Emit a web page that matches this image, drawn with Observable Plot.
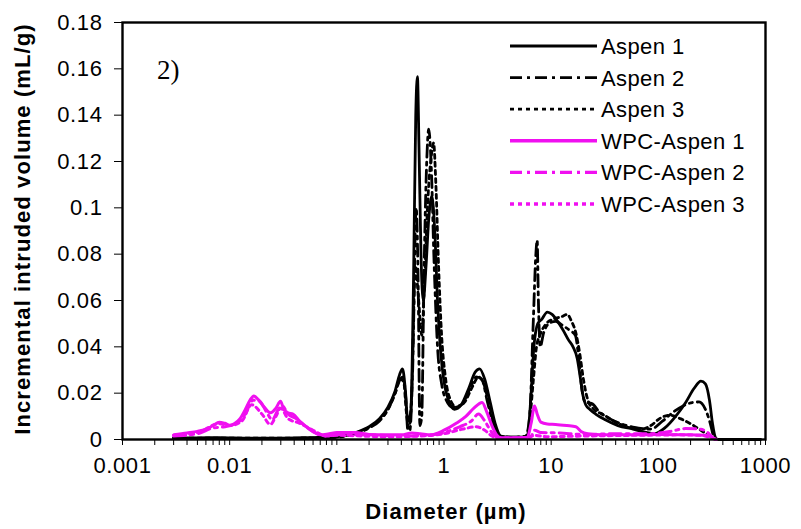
<!DOCTYPE html>
<html>
<head>
<meta charset="utf-8">
<script src="https://cdn.jsdelivr.net/npm/d3@7"></script>
<script src="https://cdn.jsdelivr.net/npm/@observablehq/plot@0.6"></script>
<style>
  html, body { margin: 0; padding: 0; background: #fff; }
  #chart { width: 801px; height: 529px; }
  svg { font-family: "Liberation Sans", Arial, sans-serif; }
</style>
</head>
<body>
<div id="chart"></div>
<script>
// ---- data (diameter in µm, incremental intruded volume in mL/g) ----
const seriesNames = ["Aspen 1", "Aspen 2", "Aspen 3", "WPC-Aspen 1", "WPC-Aspen 2", "WPC-Aspen 3"];

const aspen1 = [[0.003,0.0008],[0.005,0.0007],[0.008,0.0008],[0.015,0.0006],[0.03,0.0006],[0.06,0.0008],[0.1,0.0012],[0.15,0.003],[0.2,0.0055],[0.25,0.009],[0.3,0.014],[0.35,0.021],[0.385,0.028],[0.41,0.0305],[0.435,0.022],[0.46,0.008],[0.49,0.012],[0.52,0.07],[0.545,0.14],[0.565,0.1566],[0.585,0.125],[0.61,0.08],[0.64,0.06],[0.68,0.075],[0.72,0.095],[0.77,0.105],[0.82,0.09],[0.87,0.06],[0.93,0.038],[1.0,0.025],[1.1,0.017],[1.25,0.013],[1.45,0.015],[1.7,0.022],[1.95,0.029],[2.15,0.0305],[2.4,0.026],[2.7,0.016],[3.0,0.007],[3.4,0.0015],[4.2,0.001],[5.2,0.001],[6.0,0.0015],[6.4,0.015],[6.9,0.04],[7.5,0.05],[8.2,0.052],[9.2,0.055],[10.2,0.054],[11.5,0.051],[13,0.047],[14.5,0.043],[16,0.04],[17.5,0.035],[18.8,0.026],[19.8,0.019],[21,0.015],[23,0.013],[26,0.011],[32,0.0085],[42,0.006],[58,0.0045],[75,0.0032],[92,0.0025],[115,0.005],[145,0.01],[180,0.016],[215,0.022],[250,0.0252],[275,0.024],[300,0.017],[320,0.007],[340,0.001],[360,0],[500,0],[900,0]];

const aspen2 = [[0.003,0.0004],[0.006,0.0004],[0.012,0.0005],[0.03,0.0005],[0.06,0.0006],[0.1,0.001],[0.15,0.0025],[0.2,0.005],[0.25,0.008],[0.3,0.013],[0.35,0.02],[0.39,0.026],[0.415,0.027],[0.44,0.018],[0.46,0.004],[0.48,0.004],[0.51,0.03],[0.55,0.1],[0.575,0.065],[0.595,0.006],[0.62,0.01],[0.65,0.07],[0.69,0.12],[0.72,0.134],[0.76,0.118],[0.81,0.075],[0.87,0.04],[0.95,0.024],[1.05,0.017],[1.2,0.014],[1.45,0.015],[1.75,0.022],[2.0,0.027],[2.25,0.026],[2.55,0.016],[2.9,0.006],[3.3,0.0015],[4.5,0.001],[5.8,0.0015],[6.3,0.01],[6.8,0.05],[7.2,0.08],[7.4,0.086],[7.6,0.06],[7.9,0.04],[8.5,0.046],[9.5,0.05],[11,0.051],[13,0.049],[15,0.047],[16.8,0.045],[18,0.036],[19.3,0.022],[21,0.016],[24,0.0155],[28,0.012],[35,0.009],[45,0.0068],[60,0.0052],[85,0.0045],[110,0.008],[135,0.0115],[170,0.0145],[210,0.016],[240,0.0162],[275,0.013],[305,0.007],[325,0.002],[345,0],[500,0],[900,0]];

const aspen3 = [[0.003,0.0006],[0.006,0.0006],[0.012,0.0006],[0.03,0.0006],[0.06,0.0007],[0.1,0.0011],[0.15,0.0028],[0.2,0.0052],[0.25,0.0085],[0.3,0.013],[0.35,0.02],[0.39,0.026],[0.42,0.025],[0.445,0.012],[0.47,0.005],[0.5,0.02],[0.54,0.075],[0.58,0.06],[0.62,0.045],[0.66,0.07],[0.71,0.105],[0.76,0.122],[0.8,0.128],[0.84,0.11],[0.89,0.075],[0.95,0.045],[1.03,0.027],[1.15,0.017],[1.3,0.014],[1.55,0.016],[1.85,0.023],[2.1,0.027],[2.35,0.024],[2.7,0.013],[3.0,0.005],[3.3,0.0012],[4.5,0.0009],[5.8,0.0012],[6.3,0.008],[6.8,0.025],[7.3,0.04],[8.0,0.046],[9.0,0.05],[10.5,0.052],[12.5,0.053],[14.1,0.054],[15.5,0.051],[17,0.046],[18.5,0.037],[20,0.026],[22,0.017],[25,0.013],[30,0.011],[40,0.0075],[55,0.005],[70,0.0045],[85,0.006],[105,0.0093],[130,0.0105],[160,0.009],[200,0.0068],[240,0.0045],[280,0.0025],[320,0.0008],[345,0],[500,0],[900,0]];

const wpcAspen1 = [[0.003,0.002],[0.004,0.0028],[0.005,0.0035],[0.006,0.0045],[0.007,0.006],[0.008,0.0075],[0.009,0.007],[0.01,0.0062],[0.011,0.0068],[0.0125,0.009],[0.014,0.013],[0.0155,0.017],[0.0168,0.0188],[0.0185,0.0172],[0.021,0.014],[0.024,0.0115],[0.027,0.0135],[0.0298,0.0165],[0.032,0.013],[0.035,0.0115],[0.039,0.011],[0.045,0.008],[0.052,0.0055],[0.06,0.0035],[0.07,0.002],[0.085,0.0025],[0.1,0.003],[0.15,0.003],[0.2,0.0022],[0.3,0.002],[0.4,0.002],[0.5,0.0028],[0.6,0.0025],[0.75,0.002],[1.0,0.004],[1.3,0.007],[1.6,0.01],[1.9,0.0135],[2.27,0.016],[2.5,0.012],[2.8,0.006],[3.1,0.002],[3.4,0.0008],[5,0.0008],[6.0,0.001],[6.5,0.007],[7.0,0.0145],[7.4,0.011],[8.0,0.0075],[9.2,0.0067],[11,0.0065],[14,0.006],[17,0.0055],[19,0.0035],[22,0.0025],[30,0.002],[60,0.002],[100,0.0022],[200,0.002],[300,0.0018],[330,0.0005],[350,0]];

const wpcAspen2 = [[0.003,0.0015],[0.005,0.0025],[0.007,0.005],[0.009,0.0055],[0.012,0.0075],[0.014,0.011],[0.0165,0.017],[0.019,0.0165],[0.022,0.012],[0.025,0.0085],[0.028,0.0125],[0.031,0.0145],[0.035,0.011],[0.042,0.009],[0.05,0.006],[0.065,0.0025],[0.08,0.0015],[0.1,0.002],[0.2,0.002],[0.4,0.0015],[0.7,0.0018],[1.0,0.003],[1.4,0.0055],[1.8,0.008],[2.1,0.011],[2.4,0.008],[2.8,0.003],[3.2,0.0008],[5,0.0006],[6.5,0.0015],[7,0.004],[8,0.003],[12,0.0028],[20,0.0022],[40,0.0025],[80,0.0025],[130,0.0035],[180,0.0047],[240,0.0045],[290,0.003],[320,0.0008],[340,0]];

const wpcAspen3 = [[0.003,0.0018],[0.005,0.003],[0.008,0.0068],[0.01,0.006],[0.013,0.008],[0.016,0.015],[0.02,0.011],[0.024,0.0065],[0.027,0.01],[0.03,0.0135],[0.035,0.009],[0.045,0.007],[0.06,0.004],[0.08,0.0015],[0.1,0.0018],[0.3,0.0012],[0.6,0.0015],[1.0,0.0025],[1.5,0.0045],[2.0,0.0055],[2.4,0.004],[2.8,0.0015],[3.2,0.0005],[6,0.0006],[7,0.0018],[9,0.0012],[20,0.0015],[60,0.0018],[150,0.002],[250,0.0018],[320,0.0005],[340,0]];

const xTicks = [0.001, 0.01, 0.1, 1, 10, 100, 1000];
const xTickLabels = ["0.001", "0.01", "0.1", "1", "10", "100", "1000"];
const yTicks = [0, 0.02, 0.04, 0.06, 0.08, 0.1, 0.12, 0.14, 0.16, 0.18];
const yTickLabels = ["0", "0.02", "0.04", "0.06", "0.08", "0.1", "0.12", "0.14", "0.16", "0.18"];
const xLabel = "Diameter (µm)";
const yLabel = "Incremental intruded volume (mL/g)";
const panelLabel = "2)";

// ---- styles ----
const seriesValues = [aspen1, aspen2, aspen3, wpcAspen1, wpcAspen2, wpcAspen3];
const MAG = "#f010f0";
const styles = [
  {stroke: "#000", dash: null, w: 2.8},
  {stroke: "#000", dash: "12,5,3,5", w: 2.8},
  {stroke: "#000", dash: "4,4", w: 2.8},
  {stroke: MAG, dash: null, w: 3},
  {stroke: MAG, dash: "12,5,3,5", w: 3},
  {stroke: MAG, dash: "4,4", w: 3}
];

const tidy = seriesNames.map((name, i) => seriesValues[i].map(([d, v]) => ({series: name, d, v})));

// minor ticks (2..9 × each decade)
const minorTicks = [];
for (let e = -3; e < 3; e++) for (let m = 2; m <= 9; m++) minorTicks.push(m * Math.pow(10, e));

const lineMarks = seriesNames.map((name, i) => Plot.line(tidy[i], {
  x: "d", y: "v",
  stroke: styles[i].stroke,
  strokeWidth: styles[i].w,
  strokeDasharray: styles[i].dash,
  curve: "monotone-x"
}));

const chart = Plot.plot({
  width: 801,
  height: 529,
  marginLeft: 122,
  marginRight: 36,
  marginTop: 22,
  marginBottom: 90,
  style: {fontFamily: "'Liberation Sans', Arial, sans-serif", background: "#fff", color: "#000"},
  x: {type: "log", domain: [0.001, 1000]},
  y: {domain: [0, 0.18]},
  marks: [
    ...lineMarks,
    Plot.axisX({ticks: minorTicks, tickSize: 6, tickFormat: () => "", label: null, strokeWidth: 1}),
    Plot.axisX({ticks: xTicks, tickSize: 6, tickPadding: 12, tickFormat: (d) => xTickLabels[xTicks.indexOf(d)], label: null, fontSize: 22, strokeWidth: 1}),
    Plot.axisY({ticks: yTicks, tickSize: 8, tickPadding: 12, tickFormat: (d) => yTickLabels[yTicks.indexOf(d)], label: null, fontSize: 22, strokeWidth: 1}),
    Plot.frame({stroke: "#000", strokeWidth: 2.4})
  ]
});

document.getElementById("chart").appendChild(chart);

// ---- annotations & legend ----
const svg = d3.select(chart);
svg.selectAll("g[aria-label='x-axis tick label'] text, g[aria-label='y-axis tick label'] text")
  .style("letter-spacing", "0.6px");

svg.append("text")
  .attr("x", 446).attr("y", 519)
  .attr("text-anchor", "middle")
  .style("font-size", "22px").style("font-weight", "bold").style("letter-spacing", "1.1px")
  .text(xLabel);

svg.append("text")
  .attr("transform", "translate(30,229) rotate(-90)")
  .attr("text-anchor", "middle")
  .style("font-size", "22px").style("font-weight", "bold").style("letter-spacing", "1.1px")
  .text(yLabel);

svg.append("text")
  .attr("x", 157).attr("y", 79)
  .attr("text-anchor", "start")
  .style("font-family", "'Liberation Serif', 'Times New Roman', serif")
  .style("font-size", "27px")
  .text(panelLabel);

const legend = svg.append("g").attr("text-anchor", "start");
seriesNames.forEach((name, i) => {
  const y = 46 + i * 31.6;
  legend.append("line")
    .attr("x1", 510).attr("x2", 597).attr("y1", y).attr("y2", y)
    .attr("stroke", styles[i].stroke)
    .attr("stroke-width", i >= 3 ? 3.4 : 2.8)
    .attr("stroke-dasharray", styles[i].dash);
  legend.append("text")
    .attr("x", 601).attr("y", y)
    .attr("dy", "0.36em")
    .attr("text-anchor", "start")
    .style("font-size", "22px")
    .style("letter-spacing", "0.4px")
    .text(name);
});
</script>
</body>
</html>
